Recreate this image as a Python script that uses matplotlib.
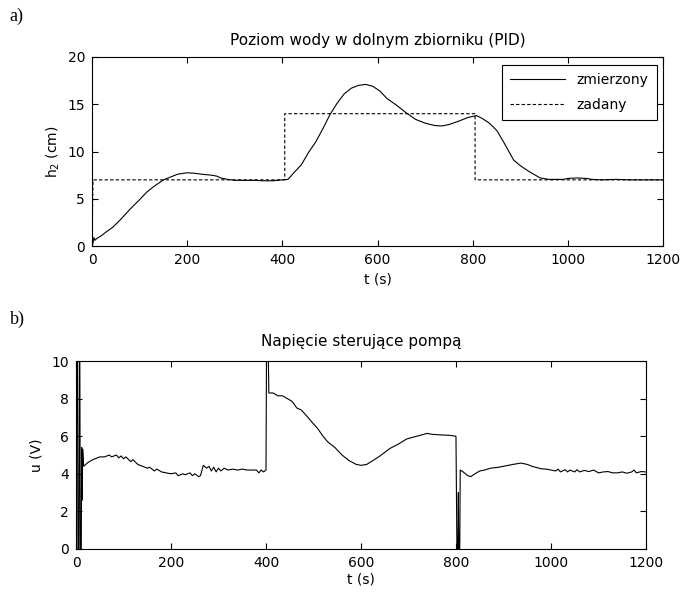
import numpy as np
import matplotlib
matplotlib.use("Agg")
import matplotlib.pyplot as plt

plt.rcParams['font.family'] = ['DejaVu Sans']
plt.rcParams['font.size'] = 10

# a) water level in lower tank
t_h2 = [0, 2, 4, 6, 10, 20, 30, 44, 60, 80, 100, 115, 130, 150, 165, 180, 200, 215,
        230, 250, 262, 270, 285, 300, 320, 340, 360, 380, 400, 412, 425, 440, 455, 470,
        485, 500, 515, 530, 545, 560, 575, 590, 605, 620, 640, 660, 680, 700, 720, 735,
        750, 770, 790, 808, 820, 835, 851, 865, 886, 900, 921, 942, 960, 990, 1000, 1020,
        1040, 1050, 1070, 1100, 1130, 1160, 1200]
h2 = [0, 0.3, 0.9, 0.6, 0.8, 1.1, 1.5, 2.0, 2.8, 3.9, 4.9, 5.7, 6.3, 7.0, 7.3, 7.6, 7.75, 7.7,
      7.6, 7.5, 7.4, 7.2, 7.05, 6.95, 6.95, 6.95, 6.9, 6.9, 7.0, 7.05, 7.8, 8.6, 9.9, 11.0,
      12.4, 13.9, 15.1, 16.1, 16.7, 17.0, 17.1, 16.9, 16.4, 15.6, 14.9, 14.1, 13.4, 13.0, 12.75, 12.7,
      12.85, 13.2, 13.6, 13.8, 13.5, 13.0, 12.2, 11.0, 9.1, 8.5, 7.8, 7.2, 7.05, 7.05, 7.15, 7.2,
      7.15, 7.05, 7.0, 7.05, 7.0, 7.0, 7.0]
t_sp = [0, 2, 405, 405, 805, 805, 1200]
h2_sp = [0, 7, 7, 14, 14, 7, 7]

# b) pump voltage
t_u = [0, 1, 3, 4, 6, 7, 8, 9, 11, 12, 13, 14, 16, 25, 35, 50, 60, 70, 75, 85, 90, 95, 100,
       105, 115, 120, 130, 140, 150, 155, 165, 170, 180, 190, 200, 210, 215, 225, 230, 240,
       245, 250, 258, 262, 268, 275, 280, 285, 290, 295, 300, 305, 312, 320, 330, 340, 350,
       360, 370, 380, 385, 390, 395, 400, 401, 405, 406, 415, 425, 435, 445, 455, 465, 474,
       485, 495, 509, 520, 530, 545, 560, 575, 590, 600, 612, 625, 640, 661, 680, 696, 710,
       725, 739, 750, 767, 785, 800, 802, 804, 805, 806, 808, 809, 815, 825, 831, 840, 850,
       860, 873, 890, 900, 910, 920, 937, 950, 960, 979, 990, 1000, 1010, 1015, 1020, 1030,
       1035, 1040, 1050, 1055, 1060, 1070, 1080, 1090, 1100, 1110, 1120, 1130, 1140, 1150,
       1160, 1170, 1175, 1180, 1190, 1200]
u = [0, 10, 10, 0, 0, 10, 10, 0, 0, 5.4, 2.6, 5.3, 4.4, 4.6, 4.75, 4.9, 4.9, 5.0, 4.9, 5.0, 4.85, 4.95, 4.8,
     4.9, 4.65, 4.75, 4.5, 4.4, 4.3, 4.35, 4.15, 4.25, 4.1, 4.05, 4.0, 4.05, 3.9, 4.0, 3.95, 4.05,
     3.9, 4.0, 3.85, 3.9, 4.45, 4.3, 4.4, 4.15, 4.35, 4.1, 4.3, 4.15, 4.3, 4.2, 4.25, 4.2, 4.25,
     4.2, 4.2, 4.2, 4.05, 4.2, 4.1, 4.2, 10, 10, 8.3, 8.3, 8.15, 8.15, 8.0, 7.85, 7.5, 7.4,
     7.1, 6.8, 6.4, 6.0, 5.7, 5.4, 5.0, 4.7, 4.5, 4.45, 4.5, 4.7, 4.95, 5.35, 5.6, 5.85, 5.95,
     6.05, 6.15, 6.1, 6.07, 6.05, 6.0, 0, 0, 3.0, 0, 0, 4.2, 4.1, 3.9, 3.85, 4.0, 4.15,
     4.2, 4.3, 4.35, 4.4, 4.45, 4.5, 4.57, 4.5, 4.4, 4.27, 4.25, 4.2, 4.15, 4.25, 4.1, 4.22,
     4.1, 4.2, 4.1, 4.22, 4.1, 4.18, 4.12, 4.2, 4.05, 4.1, 4.12, 4.05, 4.05, 4.1,
     4.03, 4.1, 4.2, 4.05, 4.12, 4.1]

xticks = [0, 200, 400, 600, 800, 1000, 1200]

fig = plt.figure(figsize=(6.95, 6.0), dpi=100)
ax1 = fig.add_axes([0.1324, 0.59, 0.8216, 0.315])
ax2 = fig.add_axes([0.1094, 0.085, 0.820, 0.3133])

ax1.plot(t_h2, h2, color='black', lw=0.8, label='zmierzony')
ax1.plot(t_sp, h2_sp, color='black', lw=0.8, ls=(0, (3, 2)), label='zadany')
ax1.set_xlim(0, 1200)
ax1.set_ylim(0, 20)
ax1.set_yticks([0, 5, 10, 15, 20])
ax1.set_title('Poziom wody w dolnym zbiorniku (PID)', fontsize=11, pad=9)
ax1.set_xlabel('t (s)', labelpad=4)
ax1.set_ylabel('h$_2$ (cm)', labelpad=4)
leg = ax1.legend(loc='upper right', bbox_to_anchor=(0.989, 0.958), fancybox=False,
                 edgecolor='black', framealpha=1, handlelength=4.0, borderaxespad=0,
                 labelspacing=0.75, borderpad=0.6)
leg.get_frame().set_linewidth(0.8)

ax2.plot(t_u, u, color='black', lw=0.8)
ax2.set_xlim(0, 1200)
ax2.set_ylim(0, 10)
ax2.set_yticks([0, 2, 4, 6, 8, 10])
ax2.set_title('Napięcie sterujące pompą', fontsize=11, pad=11)
ax2.set_xlabel('t (s)', labelpad=2)
ax2.set_ylabel('u (V)', labelpad=6)

for ax in (ax1, ax2):
    ax.set_xticks(xticks)
    ax.tick_params(direction='in', top=True, right=True, length=4, width=0.8,
                   labelsize=10, pad=5)
    for s in ax.spines.values():
        s.set_linewidth(0.8)

fig.text(0.014, 0.965, 'a)', family='Liberation Serif', fontsize=13)
fig.text(0.014, 0.46, 'b)', family='Liberation Serif', fontsize=13)

fig.savefig('out.png', dpi=100)
